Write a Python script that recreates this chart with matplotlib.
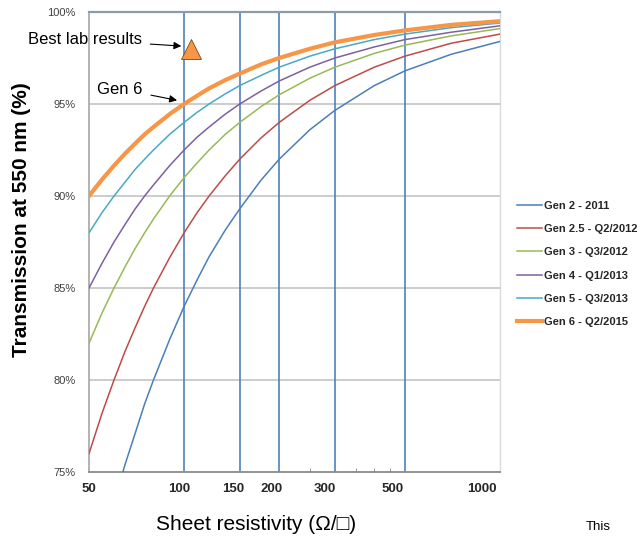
import matplotlib
matplotlib.use("Agg")
import matplotlib.pyplot as plt
import matplotlib.transforms as mtransforms
from matplotlib.ticker import FixedLocator, NullFormatter

plt.rcParams['font.family'] = ['Liberation Sans', 'DejaVu Sans']

# sheet resistivity (ohm/sq) where the curves were read
r_vals = [50, 55, 60, 65, 70, 75, 80, 90, 100, 110, 120, 135, 150, 175,
          200, 250, 300, 400, 500, 700, 1000]

# transmission at 550 nm (%)
gen2 = [68.0, 70.9, 73.3, 75.4, 77.1, 78.7, 80.0, 82.2, 84.0, 85.45, 86.7, 88.15,
        89.3, 90.85, 92.0, 93.6, 94.65, 96.0, 96.8, 97.7, 98.4]
gen25 = [76.0, 78.2, 80.0, 81.55, 82.85, 84.0, 85.0, 86.65, 88.0, 89.1, 90.0, 91.1,
         92.0, 93.15, 94.0, 95.2, 96.0, 97.0, 97.6, 98.3, 98.8]
gen3 = [82.0, 83.65, 85.0, 86.15, 87.15, 88.0, 88.75, 90.0, 91.0, 91.8, 92.5, 93.35,
        94.0, 94.85, 95.5, 96.4, 97.0, 97.75, 98.2, 98.7, 99.1]
gen4 = [85.0, 86.35, 87.5, 88.45, 89.3, 90.0, 90.6, 91.65, 92.5, 93.2, 93.75, 94.45,
        95.0, 95.7, 96.25, 97.0, 97.5, 98.1, 98.5, 98.9, 99.25]
gen5 = [88.0, 89.1, 90.0, 90.75, 91.45, 92.0, 92.5, 93.35, 94.0, 94.55, 95.0, 95.55,
        96.0, 96.55, 97.0, 97.6, 98.0, 98.5, 98.8, 99.15, 99.4]
gen6 = [90.0, 90.9, 91.65, 92.3, 92.85, 93.35, 93.75, 94.45, 95.0, 95.45, 95.85, 96.3,
        96.65, 97.15, 97.5, 98.0, 98.35, 98.75, 99.0, 99.3, 99.5]

labels = ['Gen 2 - 2011', 'Gen 2.5 - Q2/2012', 'Gen 3 - Q3/2012',
          'Gen 4 - Q1/2013', 'Gen 5 - Q3/2013', 'Gen 6 - Q2/2015']
colors = ['#4a7ebb', '#be4b48', '#98b954', '#7d60a0', '#46aac5', '#f79646']
widths = [1.1, 1.1, 1.1, 1.1, 1.1, 3.0]

best_lab_r = [105]
best_lab_t = [98.0]

xticks = [50, 100, 150, 200, 300, 500, 1000]
xtick_shift = [0, -5, -7, -8, -10, -12, -18]  # px, labels sit a bit left
vgrid = [100, 150, 200, 300, 500]
minor_x = [250, 350, 400, 450]
yticks = [75, 80, 85, 90, 95, 100]

fig = plt.figure(figsize=(6.39, 5.41), dpi=100)
ax = fig.add_axes([89/639, 69/541, 411/639, 460/541])

for vals, lab, col, lw in zip([gen2, gen25, gen3, gen4, gen5, gen6], labels, colors, widths):
    ax.plot(r_vals, vals, color=col, lw=lw, label=lab, zorder=3)

ax.plot(best_lab_r, best_lab_t, marker='^', ms=15, color='#f79646',
        mec='#7a4a10', mew=0.6, ls='none', zorder=4, clip_on=False)

ax.set_xscale('log')
ax.set_xlim(50, 1000)
ax.set_ylim(75, 100)

# grid lines
for v in vgrid:
    ax.axvline(v, color='#4f81bd', lw=1.2, zorder=2)
for h in yticks[1:-1]:
    ax.axhline(h, color='#c3c3c3', lw=1.2, zorder=1)

ax.xaxis.set_major_locator(FixedLocator(xticks))
ax.set_xticklabels([str(v) for v in xticks])
ax.xaxis.set_minor_locator(FixedLocator(minor_x))
ax.xaxis.set_minor_formatter(NullFormatter())
ax.tick_params(axis='x', which='major', length=0, pad=8, labelsize=9.5)
ax.tick_params(axis='x', which='minor', direction='in', length=3, color='#888888')
for lbl, dx in zip(ax.get_xticklabels(), xtick_shift):
    lbl.set_fontweight('bold')
    lbl.set_color('#262626')
    lbl.set_transform(lbl.get_transform() + mtransforms.ScaledTranslation(dx/100, 0, fig.dpi_scale_trans))

ax.set_yticks(yticks)
ax.set_yticklabels([f'{v}%' for v in yticks])
ax.tick_params(axis='y', length=0, pad=9.5, labelsize=8, labelcolor='#404040')

ax.spines['top'].set_color('#8c9ab0')
ax.spines['top'].set_linewidth(1.6)
ax.spines['bottom'].set_color('#8a8a8a')
ax.spines['bottom'].set_linewidth(1.3)
ax.spines['left'].set_color('#a6a6a6')
ax.spines['left'].set_linewidth(1.2)
ax.spines['right'].set_color('#dadada')
ax.spines['right'].set_linewidth(1.0)

fig.text(22/639, 1 - 220/541, 'Transmission at 550 nm (%)', rotation=90,
         ha='center', va='center', fontsize=15, fontweight='bold')
fig.text(256/639, 1 - 525/541, 'Sheet resistivity (\u03a9/\u25a1)',
         ha='center', va='center', fontsize=15)
fig.text(598/639, 1 - 527/541, 'This', ha='center', va='center', fontsize=9.5)

arrow = dict(arrowstyle='-|>', color='black', lw=0.8, mutation_scale=11,
             shrinkA=4, shrinkB=0)
ax.annotate('Best lab results', xy=(98, 98.15), xytext=(85, 541 - 40),
            textcoords='figure pixels', ha='center', va='center',
            fontsize=12, arrowprops=arrow, annotation_clip=False)
ax.annotate('Gen 6', xy=(95, 95.2), xytext=(120, 541 - 89),
            textcoords='figure pixels', ha='center', va='center',
            fontsize=12, arrowprops=arrow, annotation_clip=False)

leg = ax.legend(loc='upper left', bbox_to_anchor=(511/639, 1 - 195/541),
                bbox_transform=fig.transFigure, frameon=False, borderpad=0,
                handlelength=2.25, handletextpad=0.25, labelspacing=1.2,
                prop={'size': 8, 'weight': 'bold'})
for t in leg.get_texts():
    t.set_color('#262626')

fig.savefig('out.png', dpi=100)
